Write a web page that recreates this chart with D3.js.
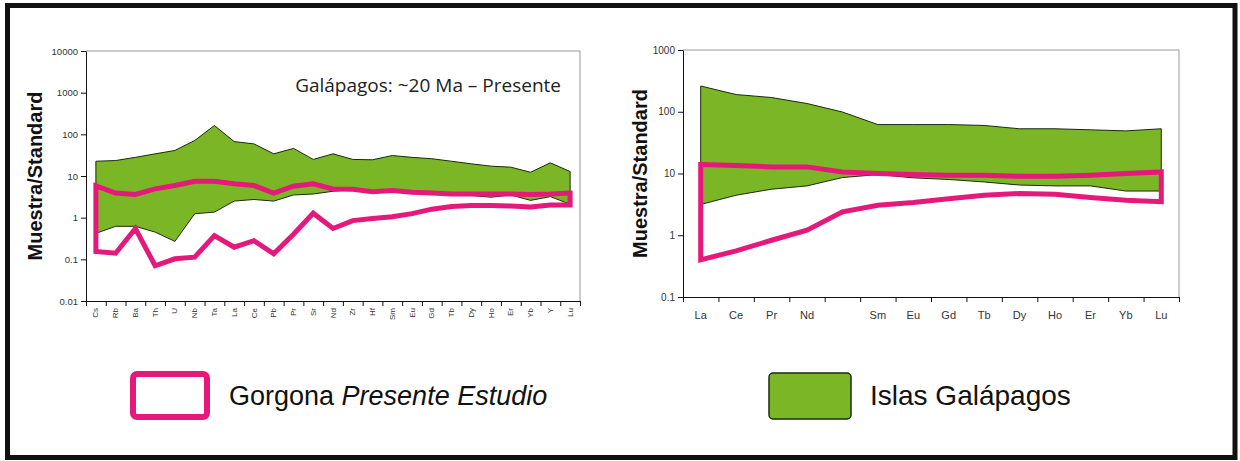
<!DOCTYPE html>
<html>
<head>
<meta charset="utf-8">
<script src="https://cdn.jsdelivr.net/npm/d3@7"></script>
<style>
  html, body { margin: 0; padding: 0; background: #fff; }
  svg { display: block; }
</style>
</head>
<body>
<svg id="chart" width="1240" height="461"></svg>
<script>
// Trace-element spider diagram (left panel)
const traceCats = ["Cs","Rb","Ba","Th","U","Nb","Ta","La","Ce","Pb","Pr","Sr","Nd","Zr","Hf","Sm","Eu","Gd","Tb","Dy","Ho","Er","Yb","Y","Lu"];
const galTraceHigh = [22.6,23.5,28,34,41,71,163,67,59,34,46,25,34,25,24.5,31,28,26,22.6,19.6,17.2,16.3,12.3,20.7,12.8];
const galTraceLow  = [0.42,0.62,0.62,0.45,0.27,1.24,1.36,2.5,2.73,2.5,3.5,3.7,4.3,4.7,4.5,4.3,4.1,3.9,3.7,3.4,3.1,3.5,2.6,3.2,2.1];
const gorTraceHigh = [5.8,3.9,3.6,4.9,5.9,7.5,7.5,6.5,5.9,3.9,5.7,6.5,4.9,4.8,4.2,4.5,4.1,3.9,3.7,3.7,3.7,3.7,3.6,3.7,3.9];
const gorTraceLow  = [0.155,0.14,0.55,0.07,0.103,0.113,0.37,0.196,0.28,0.136,0.4,1.28,0.55,0.85,0.95,1.05,1.25,1.6,1.85,1.95,1.95,1.9,1.8,2.0,2.0];
const traceTicks = [0.01,0.1,1,10,100,1000,10000];

// Rare-earth element diagram (right panel); Pm has no label
const reeCats   = ["La","Ce","Pr","Nd","Pm","Sm","Eu","Gd","Tb","Dy","Ho","Er","Yb","Lu"];
const reeLabels = ["La","Ce","Pr","Nd","","Sm","Eu","Gd","Tb","Dy","Ho","Er","Yb","Lu"];
const galReeHigh = [261,190,170,136,99,62,62,62,60,53,53,51,49,53];
const galReeLow  = [3.15,4.45,5.57,6.3,8.6,9.6,8.5,8.0,7.3,6.5,6.3,6.3,5.2,5.2];
const gorReeHigh = [14,13.5,12.8,12.8,10.6,10,9.6,9.4,9.4,9.0,9.0,9.4,10,10.6];
const gorReeLow  = [0.4,0.56,0.83,1.21,2.4,3.07,3.4,3.9,4.45,4.75,4.6,4.1,3.7,3.5];
const reeTicks = [0.1,1,10,100,1000];

const PINK = "#e5197b";
const GREEN = "#7bb626";
const svg = d3.select("#chart");

// outer frame
svg.append("rect")
  .attr("x", 7.5).attr("y", 5.5).attr("width", 1227.5).attr("height", 452)
  .attr("fill", "#fff").attr("stroke", "#111").attr("stroke-width", 5);

function panel(opt) {
  const g = svg.append("g");
  const x = d3.scaleBand().domain(opt.cats).range([opt.x0, opt.x1]);
  const cx = c => x(c) + x.bandwidth() / 2;
  const y = d3.scaleLog().domain(opt.yDomain).range([opt.y1, opt.y0]);

  // plot frame (top and right)
  g.append("path")
    .attr("d", `M${opt.x0},${opt.y0}H${opt.x1}V${opt.y1}`)
    .attr("fill", "none").attr("stroke", "#999").attr("stroke-width", 1);

  // Galápagos envelope
  const envelope = opt.cats.map((c, i) => [cx(c), y(opt.galHigh[i])])
    .concat(opt.cats.map((c, i) => [cx(c), y(opt.galLow[i])]).reverse());
  g.append("path")
    .attr("d", d3.line()(envelope) + "Z")
    .attr("fill", GREEN).attr("stroke", "#1b2a0c").attr("stroke-width", 1)
    .attr("stroke-linejoin", "round");

  // Gorgona envelope (outline only)
  const gor = opt.cats.map((c, i) => [cx(c), y(opt.gorHigh[i])])
    .concat(opt.cats.map((c, i) => [cx(c), y(opt.gorLow[i])]).reverse());
  g.append("path")
    .attr("d", d3.line()(gor) + "Z")
    .attr("fill", "none").attr("stroke", PINK).attr("stroke-width", 5)
    .attr("stroke-linejoin", "miter");

  // y axis
  const ya = g.append("g").attr("transform", `translate(${opt.x0},0)`)
    .call(d3.axisLeft(y).tickValues(opt.yTicks).tickFormat(d3.format("~g"))
      .tickSize(5).tickSizeOuter(0).tickPadding(3));
  ya.selectAll("text").attr("font-family", "Liberation Sans, Arial, sans-serif")
    .attr("font-size", opt.yFont).attr("fill", "#333");
  ya.selectAll("line,path").attr("stroke", "#111");

  // x axis: tick marks between categories
  const xl = d3.scaleLinear().domain([0, opt.cats.length]).range([opt.x0, opt.x1]);
  const xa = g.append("g").attr("transform", `translate(0,${opt.y1})`)
    .call(d3.axisBottom(xl).ticks(opt.cats.length).tickFormat("").tickSize(5).tickSizeOuter(0));
  xa.selectAll("line,path").attr("stroke", "#111");

  // category labels
  const xt = g.append("g").attr("transform", `translate(0,${opt.y1})`)
    .call(d3.axisBottom(x).tickSize(0).tickFormat((d, i) => opt.labels[i]));
  xt.select(".domain").remove();
  xt.selectAll("text").attr("font-family", "Liberation Sans, Arial, sans-serif")
    .attr("font-size", opt.xFont).attr("fill", "#333");
  if (opt.rotate) {
    xt.selectAll("text")
      .attr("transform", "rotate(-90)")
      .attr("text-anchor", "end")
      .attr("x", -7).attr("y", 0).attr("dy", "0.32em");
  } else {
    xt.selectAll("text").attr("y", 14);
  }

  // axis title
  g.append("text")
    .attr("transform", `translate(${opt.titleX},${(opt.y0 + opt.y1) / 2}) rotate(-90)`)
    .attr("text-anchor", "middle")
    .attr("font-family", "Liberation Sans, Arial, sans-serif")
    .attr("font-weight", "bold").attr("font-size", 20).attr("fill", "#111")
    .text("Muestra/Standard");
  return g;
}

const left = panel({
  cats: traceCats, labels: traceCats, x0: 86, x1: 580, y0: 51, y1: 301,
  yDomain: [0.01, 10000], yTicks: traceTicks, yFont: 9.5, xFont: 8, rotate: true,
  galHigh: galTraceHigh, galLow: galTraceLow, gorHigh: gorTraceHigh, gorLow: gorTraceLow,
  titleX: 42
});
left.append("text")
  .attr("x", 561).attr("y", 92).attr("text-anchor", "end")
  .attr("font-family", "Open Sans, sans-serif").attr("font-size", 19).attr("fill", "#222")
  .text("Galápagos: ~20 Ma – Presente");

panel({
  cats: reeCats, labels: reeLabels, x0: 683, x1: 1179, y0: 50, y1: 297,
  yDomain: [0.1, 1000], yTicks: reeTicks, yFont: 10, xFont: 11, rotate: false,
  galHigh: galReeHigh, galLow: galReeLow, gorHigh: gorReeHigh, gorLow: gorReeLow,
  titleX: 647
});

// legend
const lg = svg.append("g");
lg.append("rect").attr("x", 133).attr("y", 374).attr("width", 74).attr("height", 43).attr("rx", 4)
  .attr("fill", "#fff").attr("stroke", PINK).attr("stroke-width", 6);
const t1 = lg.append("text").attr("x", 229).attr("y", 405)
  .attr("font-family", "Liberation Sans, Arial, sans-serif").attr("font-size", 27).attr("fill", "#111");
t1.append("tspan").text("Gorgona ");
t1.append("tspan").attr("font-style", "italic").text("Presente Estudio");
lg.append("rect").attr("x", 769).attr("y", 373).attr("width", 82).attr("height", 46).attr("rx", 4)
  .attr("fill", GREEN).attr("stroke", "#1b2a0c").attr("stroke-width", 1.5);
lg.append("text").attr("x", 870).attr("y", 405)
  .attr("font-family", "Liberation Sans, Arial, sans-serif").attr("font-size", 28).attr("fill", "#111")
  .text("Islas Galápagos");
</script>
</body>
</html>
